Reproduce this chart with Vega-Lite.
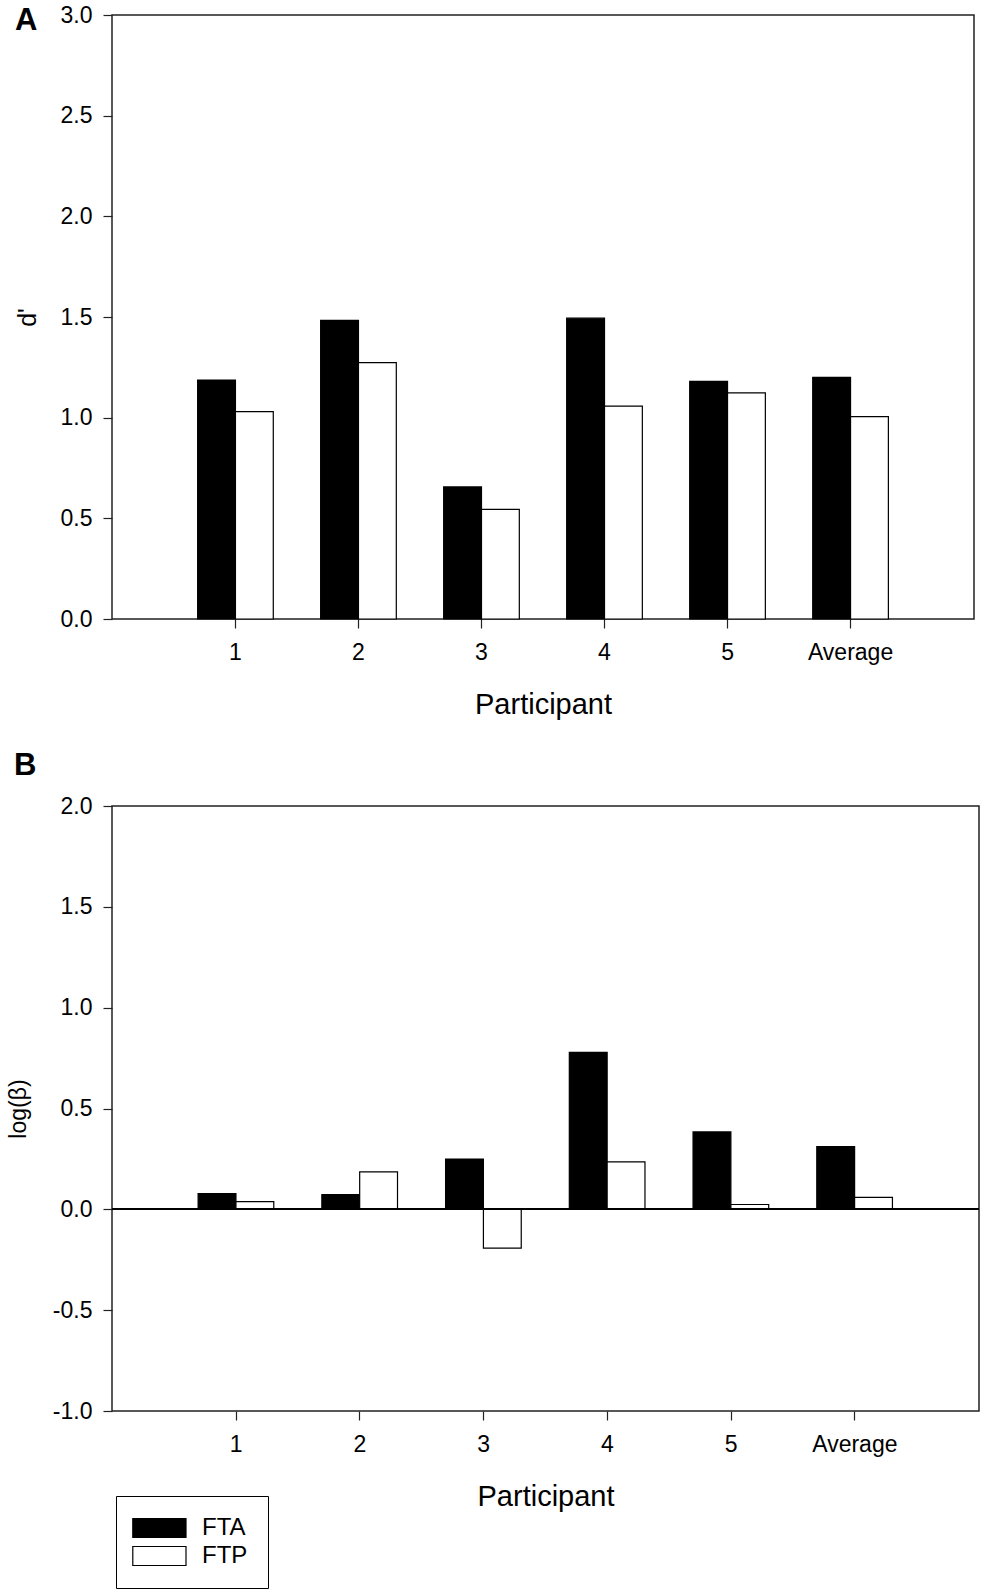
{
  "$schema": "https://vega.github.io/schema/vega-lite/v6.json",
  "datasets": {
    "dprime": [
      {"participant": "1", "condition": "FTA", "value": 1.187},
      {"participant": "1", "condition": "FTP", "value": 1.03},
      {"participant": "2", "condition": "FTA", "value": 1.483},
      {"participant": "2", "condition": "FTP", "value": 1.273},
      {"participant": "3", "condition": "FTA", "value": 0.656},
      {"participant": "3", "condition": "FTP", "value": 0.544},
      {"participant": "4", "condition": "FTA", "value": 1.494},
      {"participant": "4", "condition": "FTP", "value": 1.057},
      {"participant": "5", "condition": "FTA", "value": 1.18},
      {"participant": "5", "condition": "FTP", "value": 1.123},
      {"participant": "Average", "condition": "FTA", "value": 1.2},
      {"participant": "Average", "condition": "FTP", "value": 1.005}
    ],
    "logbeta": [
      {"participant": "1", "condition": "FTA", "value": 0.078},
      {"participant": "1", "condition": "FTP", "value": 0.038},
      {"participant": "2", "condition": "FTA", "value": 0.073},
      {"participant": "2", "condition": "FTP", "value": 0.186},
      {"participant": "3", "condition": "FTA", "value": 0.249},
      {"participant": "3", "condition": "FTP", "value": -0.192},
      {"participant": "4", "condition": "FTA", "value": 0.778},
      {"participant": "4", "condition": "FTP", "value": 0.235},
      {"participant": "5", "condition": "FTA", "value": 0.384},
      {"participant": "5", "condition": "FTP", "value": 0.024},
      {"participant": "Average", "condition": "FTA", "value": 0.311},
      {"participant": "Average", "condition": "FTP", "value": 0.059}
    ]
  },
  "padding": {"left": 7, "top": 3, "right": 0, "bottom": 0},
  "spacing": 29,
  "resolve": {"scale": {"fill": "independent"}, "legend": {"fill": "independent"}},
  "vconcat": [
    {
      "width": 862,
      "height": 604,
      "title": {"text": "A", "anchor": "start", "frame": "group", "dx": -97, "dy": 37, "fontSize": 31, "fontWeight": "bold", "color": "black"},
      "data": {"name": "dprime"},
      "mark": {"type": "bar", "stroke": "black", "strokeWidth": 1.2},
      "encoding": {
        "x": {
          "field": "participant", "type": "nominal",
          "sort": ["1", "2", "3", "4", "5", "Average"],
          "scale": {"paddingInner": 0.385, "paddingOuter": 0.696},
          "axis": {"labelAngle": 0, "title": "Participant", "titlePadding": 26}
        },
        "xOffset": {"field": "condition", "type": "nominal", "scale": {"paddingInner": 0, "paddingOuter": 0}},
        "y": {
          "field": "value", "type": "quantitative",
          "scale": {"domain": [0, 3], "nice": false},
          "axis": {"values": [0, 0.5, 1, 1.5, 2, 2.5, 3], "format": ".1f", "labelPadding": 11, "title": "d'", "titleFontSize": 25, "titlePadding": 20}
        },
        "fill": {"field": "condition", "type": "nominal", "scale": {"domain": ["FTA", "FTP"], "range": ["black", "white"]}, "legend": null}
      }
    },
    {
      "width": 867,
      "height": 605,
      "title": {"text": "B", "anchor": "start", "frame": "group", "dx": -98, "dy": -9, "fontSize": 31, "fontWeight": "bold", "color": "black"},
      "data": {"name": "logbeta"},
      "layer": [
        {
          "mark": {"type": "bar", "stroke": "black", "strokeWidth": 1.2},
          "encoding": {
            "x": {
              "field": "participant", "type": "nominal",
              "sort": ["1", "2", "3", "4", "5", "Average"],
              "scale": {"paddingInner": 0.385, "paddingOuter": 0.696},
              "axis": {"labelAngle": 0, "title": "Participant", "titlePadding": 26}
            },
            "xOffset": {"field": "condition", "type": "nominal", "scale": {"paddingInner": 0, "paddingOuter": 0}},
            "y": {
              "field": "value", "type": "quantitative",
              "scale": {"domain": [-1, 2], "nice": false},
              "axis": {
                "values": [-1, -0.5, 0, 0.5, 1, 1.5, 2],
                "labelExpr": "replace(format(datum.value, '.1f'), '\u2212', '-')",
                "labelPadding": 11,
                "title": "log(β)", "titleFontSize": 23, "titlePadding": 21.5
              }
            },
            "fill": {
              "field": "condition", "type": "nominal",
              "scale": {"domain": ["FTA", "FTP"], "range": ["black", "white"]},
              "legend": {
                "orient": "none", "legendX": 4, "legendY": 690, "title": null,
                "symbolType": "M-1.6,-1H4V1H-1.6Z", "symbolSize": 361,
                "symbolStrokeColor": "black", "symbolStrokeWidth": 1.2,
                "labelFontSize": 24, "labelColor": "black", "labelOffset": 42,
                "strokeColor": "black", "padding": 20, "rowPadding": 4
              }
            }
          }
        },
        {
          "mark": {"type": "rule", "stroke": "black", "strokeWidth": 1.5},
          "encoding": {"y": {"datum": 0}}
        }
      ]
    }
  ],
  "config": {
    "font": "Liberation Sans",
    "view": {"stroke": "#222", "strokeWidth": 1.5},
    "axis": {
      "grid": false,
      "domain": false,
      "tickColor": "#222",
      "tickSize": 9,
      "tickWidth": 1.2,
      "labelFontSize": 23,
      "labelColor": "black",
      "labelPadding": 13,
      "titleFontSize": 29,
      "titleFontWeight": "normal",
      "titleColor": "black"
    }
  }
}
